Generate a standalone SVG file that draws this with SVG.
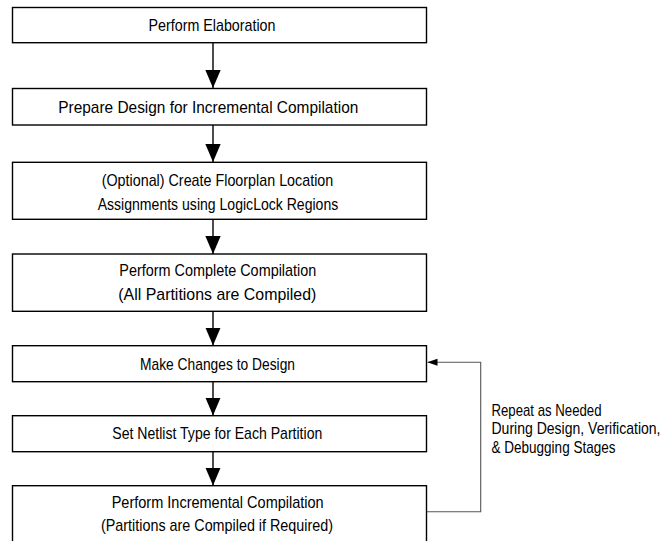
<svg xmlns="http://www.w3.org/2000/svg" width="666" height="541" viewBox="0 0 666 541">
<style>
.box{fill:#fff;stroke:#000;stroke-width:1.4}
.t{font-family:"Liberation Sans",Arial,sans-serif;font-size:17px;fill:#000}
.c{stroke:#000;stroke-width:1.4;fill:none}
.fb{stroke:#555;stroke-width:1.1;fill:none}
</style>
<defs>
<marker id="big" markerUnits="userSpaceOnUse" markerWidth="18" markerHeight="22" refX="20" refY="8.5" orient="auto" viewBox="0 0 20 17">
<path d="M0,0 L20,8.5 L0,17 Z" fill="#000"/>
</marker>
<marker id="small" markerUnits="userSpaceOnUse" markerWidth="10" markerHeight="8" refX="10" refY="3.5" orient="auto" viewBox="0 0 10 7">
<path d="M0,0 L10,3.5 L0,7 Z" fill="#000"/>
</marker>
</defs>
<g id="connectors">
<line class="c" x1="213" y1="42.7" x2="213" y2="88" marker-end="url(#big)"/>
<line class="c" x1="213" y1="125" x2="213" y2="162" marker-end="url(#big)"/>
<line class="c" x1="213" y1="219.3" x2="213" y2="254" marker-end="url(#big)"/>
<line class="c" x1="213" y1="311.3" x2="213" y2="345.5" marker-end="url(#big)"/>
<line class="c" x1="213" y1="381.7" x2="213" y2="415.5" marker-end="url(#big)"/>
<line class="c" x1="213" y1="451.7" x2="213" y2="485.5" marker-end="url(#big)"/>
<polyline class="fb" points="427,511.7 480.7,511.7 480.7,362.3 427.5,362.3" marker-end="url(#small)"/>
</g>
<g id="n1">
<rect class="box" x="12.5" y="7.5" width="414" height="35.2"/>
<text class="t" x="148.5" y="31" textLength="127" lengthAdjust="spacingAndGlyphs">Perform Elaboration</text>
</g>
<g id="n2">
<rect class="box" x="12.5" y="88.5" width="414" height="36.5"/>
<text class="t" x="58.3" y="113" textLength="300" lengthAdjust="spacingAndGlyphs">Prepare Design for Incremental Compilation</text>
</g>
<g id="n3">
<rect class="box" x="12.5" y="162.3" width="414" height="57"/>
<text class="t" x="101.7" y="185.5" textLength="231.6" lengthAdjust="spacingAndGlyphs">(Optional) Create Floorplan Location</text>
<text class="t" x="97.7" y="209.5" textLength="240.6" lengthAdjust="spacingAndGlyphs">Assignments using LogicLock Regions</text>
</g>
<g id="n4">
<rect class="box" x="12.5" y="254" width="414" height="57.3"/>
<text class="t" x="119.3" y="276.3" textLength="197" lengthAdjust="spacingAndGlyphs">Perform Complete Compilation</text>
<text class="t" x="118.3" y="300.3" textLength="198" lengthAdjust="spacingAndGlyphs">(All Partitions are Compiled)</text>
</g>
<g id="n5">
<rect class="box" x="12.5" y="345.7" width="414" height="36"/>
<text class="t" x="140" y="369.7" textLength="155" lengthAdjust="spacingAndGlyphs">Make Changes to Design</text>
</g>
<g id="n6">
<rect class="box" x="12.5" y="415.7" width="414" height="36"/>
<text class="t" x="112.3" y="439" textLength="210" lengthAdjust="spacingAndGlyphs">Set Netlist Type for Each Partition</text>
</g>
<g id="n7">
<rect class="box" x="12.5" y="485.7" width="414" height="60"/>
<text class="t" x="111.7" y="508" textLength="212" lengthAdjust="spacingAndGlyphs">Perform Incremental Compilation</text>
<text class="t" x="101" y="531.4" textLength="232" lengthAdjust="spacingAndGlyphs">(Partitions are Compiled if Required)</text>
</g>
<g id="label">
<text class="t" x="491.5" y="415.7" textLength="110" lengthAdjust="spacingAndGlyphs">Repeat as Needed</text>
<text class="t" x="491.5" y="434.3" textLength="169" lengthAdjust="spacingAndGlyphs">During Design, Verification,</text>
<text class="t" x="491.5" y="453" textLength="124" lengthAdjust="spacingAndGlyphs">&amp; Debugging Stages</text>
</g>
</svg>
